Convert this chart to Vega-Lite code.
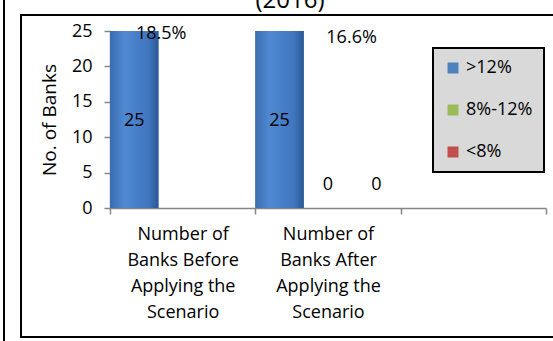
{
  "$schema": "https://vega.github.io/schema/vega-lite/v6.json",
  "width": 532,
  "height": 322,
  "autosize": {"type": "none"},
  "padding": {"left": 21, "top": 15, "right": 0, "bottom": 4},
  "background": "white",
  "title": {"text": "(2016)", "fontSize": 24, "fontWeight": "normal", "font": "Open Sans", "color": "black", "anchor": "middle", "frame": "group", "baseline": "alphabetic", "offset": -17, "dx": 3},
  "config": {"font": "Open Sans", "view": {"stroke": "black", "strokeWidth": 2, "strokeDash": [532, 322, 854]}},
  "datasets": {
    "banks": [
      {"category": "Number of Banks Before Applying the Scenario", "series": ">12%", "count": 25, "car": "18.5%"},
      {"category": "Number of Banks Before Applying the Scenario", "series": "8%-12%", "count": 0},
      {"category": "Number of Banks Before Applying the Scenario", "series": "<8%", "count": 0},
      {"category": "Number of Banks After Applying the Scenario", "series": ">12%", "count": 25, "car": "16.6%"},
      {"category": "Number of Banks After Applying the Scenario", "series": "8%-12%", "count": 0},
      {"category": "Number of Banks After Applying the Scenario", "series": "<8%", "count": 0}
    ]
  },
  "data": {"name": "banks"},
  "resolve": {"scale": {"y": "independent"}, "axis": {"y": "independent"}},
  "layer": [
    {
      "encoding": {
        "x": {
          "field": "category",
          "type": "nominal",
          "sort": null,
          "scale": {"domain": ["Number of Banks Before Applying the Scenario", "Number of Banks After Applying the Scenario", ""], "range": [89, 525], "paddingInner": 0, "paddingOuter": 0},
          "axis": {
            "title": null,
            "labelExpr": "datum.value == 'Number of Banks Before Applying the Scenario' ? ['Number of', 'Banks Before', 'Applying the', 'Scenario'] : datum.value == 'Number of Banks After Applying the Scenario' ? ['Number of', 'Banks After', 'Applying the', 'Scenario'] : ''",
            "labelAngle": 0,
            "labelFontSize": 18,
            "labelLineHeight": 26,
            "labelColor": "black",
            "labelPadding": 11,
            "labelLimit": 0,
            "labelOverlap": false,
            "domainColor": "#868686",
            "domainWidth": 1.5,
            "tickColor": "#868686",
            "tickWidth": 1.5,
            "tickSize": 6,
            "tickBand": "extent",
            "offset": -129
          }
        },
        "xOffset": {"field": "series", "type": "nominal", "sort": null, "scale": {"domain": [">12%", "8%-12%", "<8%"], "paddingInner": 0, "paddingOuter": 0}},
        "y": {
          "field": "count",
          "type": "quantitative",
          "scale": {"domain": [0, 25], "range": [193, 16], "nice": false},
          "axis": {
            "orient": "left",
            "title": "No. of Banks",
            "titleFontSize": 19,
            "titleFontWeight": "normal",
            "titleColor": "black",
            "titlePadding": 12,
            "values": [0, 5, 10, 15, 20, 25],
            "labelFontSize": 18,
            "labelColor": "black",
            "labelPadding": 12,
            "labelFlush": false,
            "labelOverlap": false,
            "tickSize": 6,
            "domainColor": "#868686",
            "domainWidth": 1.5,
            "tickColor": "#868686",
            "tickWidth": 1.5,
            "grid": false,
            "offset": -89
          }
        }
      },
      "layer": [
        {
          "mark": {"type": "bar"},
          "encoding": {
            "color": {
              "field": "series",
              "type": "nominal",
              "scale": {"domain": [">12%", "8%-12%", "<8%"], "range": ["#4f81bd", "#9bbb59", "#c0504d"]},
              "legend": {
                "title": null,
                "orient": "none",
                "legendX": 412,
                "legendY": 33,
                "direction": "vertical",
                "fillColor": "#d9d9d9",
                "strokeColor": "black",
                "padding": 11,
                "rowPadding": 24,
                "symbolType": "square",
                "symbolSize": 121,
                "symbolStrokeWidth": 0,
                "labelFontSize": 18,
                "labelColor": "black",
                "labelOffset": 4,
                "labelLimit": 0,
                "encode": {"legend": {"update": {"strokeWidth": {"value": 2}}}}
              }
            }
          }
        },
        {
          "transform": [{"filter": "datum.series == '>12%'"}],
          "mark": {
            "type": "bar",
            "color": {
              "gradient": "linear",
              "x1": 0, "x2": 1, "y1": 0, "y2": 0,
              "stops": [
                {"offset": 0, "color": "#3b6db0"},
                {"offset": 0.3, "color": "#5089d2"},
                {"offset": 0.8, "color": "#3f75bd"},
                {"offset": 1, "color": "#2c5896"}
              ]
            }
          }
        },
        {
          "transform": [{"filter": "datum.series == '>12%'"}],
          "mark": {"type": "text", "fontSize": 18, "color": "black", "baseline": "middle", "dy": 90},
          "encoding": {"text": {"field": "count", "type": "quantitative"}}
        },
        {
          "transform": [{"filter": "datum.count == 0 && datum.category == 'Number of Banks After Applying the Scenario'"}],
          "mark": {"type": "text", "fontSize": 18, "color": "black", "baseline": "middle", "dy": -23},
          "encoding": {"text": {"field": "count", "type": "quantitative"}}
        },
        {
          "transform": [{"filter": "datum.series == '>12%' && datum.category == 'Number of Banks Before Applying the Scenario'"}],
          "mark": {"type": "text", "fontSize": 18, "color": "black", "baseline": "middle", "dx": 27, "dy": 3},
          "encoding": {"text": {"field": "car", "type": "nominal"}}
        },
        {
          "transform": [{"filter": "datum.series == '>12%' && datum.category == 'Number of Banks After Applying the Scenario'"}],
          "mark": {"type": "text", "fontSize": 18, "color": "black", "baseline": "middle", "dx": 72, "dy": 7},
          "encoding": {"text": {"field": "car", "type": "nominal"}}
        }
      ]
    },
    {
      "mark": {"type": "rule", "opacity": 0},
      "encoding": {
        "y": {
          "datum": 0,
          "type": "quantitative",
          "scale": {"domain": [0, 1], "range": [330, -20], "nice": false},
          "axis": {"orient": "left", "title": null, "labels": false, "ticks": false, "grid": false, "domainColor": "black", "domainWidth": 2, "offset": 17.5}
        }
      }
    }
  ]
}
